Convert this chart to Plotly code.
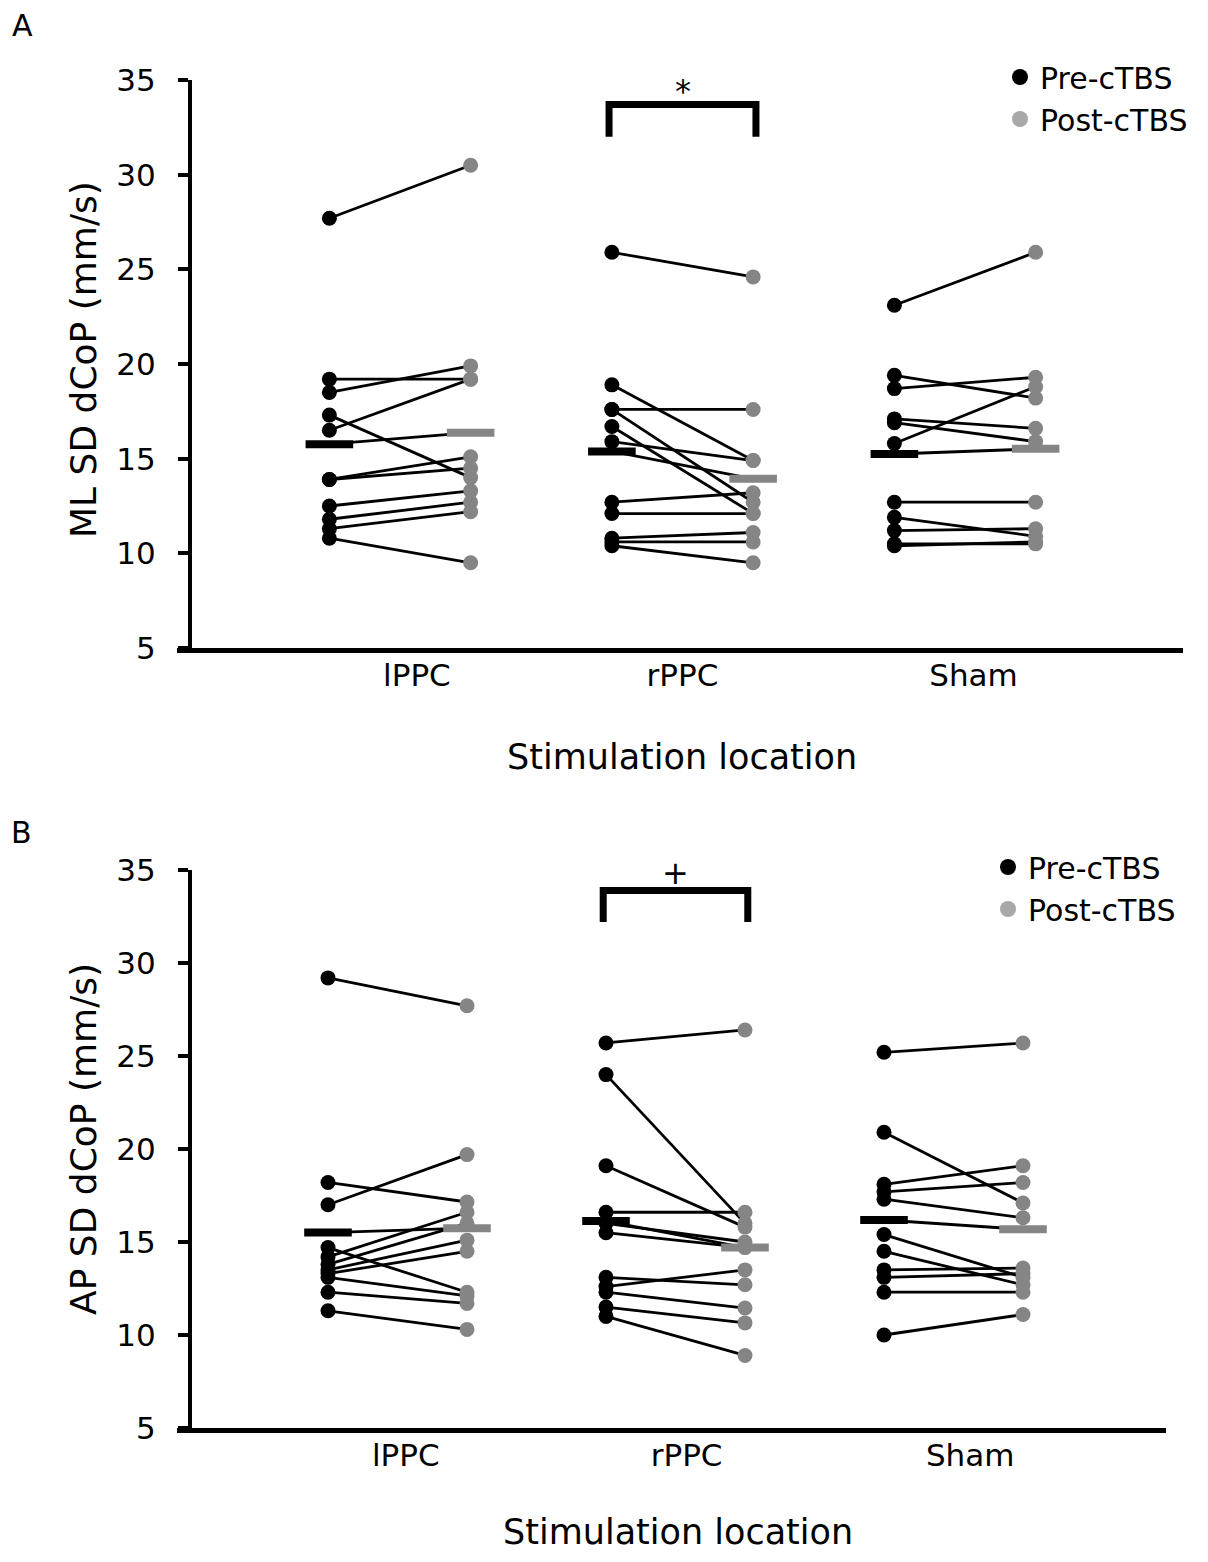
import numpy as np
import plotly.graph_objects as go

# ---------------- data ----------------
categories = ["lPPC", "rPPC", "Sham"]
cat_pos = [1, 2, 3]
y_ticks = [5, 10, 15, 20, 25, 30, 35]

# Panel A: ML SD dCoP (mm/s), paired by subject
A_lPPC_pre = [27.7, 19.2, 18.5, 17.3, 16.5, 13.9, 13.9, 12.5, 11.8, 11.3, 10.8]
A_lPPC_post = [30.5, 19.2, 19.9, 14.0, 19.2, 15.1, 14.5, 13.3, 12.7, 12.2, 9.5]
A_rPPC_pre = [25.9, 18.9, 17.6, 17.6, 16.7, 15.9, 12.7, 12.1, 10.8, 10.6, 10.4]
A_rPPC_post = [24.6, 14.9, 17.6, 12.7, 12.1, 14.9, 13.2, 12.1, 11.1, 10.6, 9.5]
A_Sham_pre = [23.1, 19.4, 18.7, 17.1, 16.9, 15.8, 12.7, 11.9, 11.2, 10.5, 10.4]
A_Sham_post = [25.9, 18.2, 19.3, 16.6, 15.9, 18.8, 12.7, 10.9, 11.3, 10.5, 10.6]

# Panel B: AP SD dCoP (mm/s)
B_lPPC_pre = [29.2, 18.2, 17.0, 14.7, 14.2, 13.8, 13.5, 13.3, 13.1, 12.3, 11.3]
B_lPPC_post = [27.7, 17.15, 19.7, 12.3, 16.6, 16.0, 15.1, 14.5, 12.1, 11.7, 10.3]
B_rPPC_pre = [25.7, 24.0, 19.1, 16.6, 16.0, 15.5, 13.1, 12.6, 12.3, 11.5, 11.0]
B_rPPC_post = [26.4, 16.0, 15.8, 16.6, 15.0, 14.7, 12.7, 13.5, 11.45, 10.65, 8.9]
B_Sham_pre = [25.2, 20.9, 18.1, 17.7, 17.3, 15.4, 14.5, 13.5, 13.1, 12.3, 10.0]
B_Sham_post = [25.7, 17.1, 19.1, 18.2, 16.3, 13.1, 12.7, 13.6, 13.3, 12.3, 11.1]

A_pre = [A_lPPC_pre, A_rPPC_pre, A_Sham_pre]
A_post = [A_lPPC_post, A_rPPC_post, A_Sham_post]
B_pre = [B_lPPC_pre, B_rPPC_pre, B_Sham_pre]
B_post = [B_lPPC_post, B_rPPC_post, B_Sham_post]

series_names = ["Pre-cTBS", "Post-cTBS"]
sig_marks = ["*", "+"]
y_titles = ["ML SD dCoP (mm/s)", "AP SD dCoP (mm/s)"]
x_title = "Stimulation location"
panel_letters = ["A", "B"]

# ---------------- style ----------------
BODY = 8                      # default page margin around the plot div
W, H = 1208 - 2 * BODY, 1562 - 2 * BODY
FONT = "DejaVu Sans"
PRE_C = "#000000"
POST_C = "#858585"
LEG_POST_C = "#a8a8a8"
OFF = 0.25


def fx(p):  # screen pixel -> paper fraction
    return (p - BODY) / W


def fy(p):
    return 1 - (p - BODY) / H


fig = go.Figure()


def add_panel(pre_sets, post_sets, xa, ya, legend):
    lx, ly = [], []
    px_pre, py_pre, px_post, py_post = [], [], [], []
    mx_pre, my_pre, mx_post, my_post = [], [], [], []
    mlx, mly = [], []
    for c, pre, post in zip(cat_pos, pre_sets, post_sets):
        for a, b in zip(pre, post):
            lx += [c - OFF, c + OFF, None]
            ly += [a, b, None]
            px_pre.append(c - OFF); py_pre.append(a)
            px_post.append(c + OFF); py_post.append(b)
        m1, m2 = float(np.mean(pre)), float(np.mean(post))
        mx_pre.append(c - OFF); my_pre.append(m1)
        mx_post.append(c + OFF); my_post.append(m2)
        mlx += [c - OFF, c + OFF, None]
        mly += [m1, m2, None]
    common = dict(xaxis=xa, yaxis=ya, showlegend=False, hoverinfo="skip")
    fig.add_trace(go.Scatter(x=lx, y=ly, mode="lines",
                             line=dict(color="black", width=2.8), **common))
    fig.add_trace(go.Scatter(x=mlx, y=mly, mode="lines",
                             line=dict(color="black", width=2.8), **common))
    fig.add_trace(go.Scatter(x=px_pre, y=py_pre, mode="markers",
                             marker=dict(color=PRE_C, size=15), **common))
    fig.add_trace(go.Scatter(x=px_post, y=py_post, mode="markers",
                             marker=dict(color=POST_C, size=15), **common))
    fig.add_trace(go.Scatter(x=mx_pre, y=my_pre, mode="markers",
                             marker=dict(symbol="line-ew", size=34,
                                         line=dict(color=PRE_C, width=8)), **common))
    fig.add_trace(go.Scatter(x=mx_post, y=my_post, mode="markers",
                             marker=dict(symbol="line-ew", size=34,
                                         line=dict(color=POST_C, width=8)), **common))
    # legend entries
    fig.add_trace(go.Scatter(x=[None], y=[None], mode="markers", name=series_names[0],
                             marker=dict(color=PRE_C, size=17), xaxis=xa, yaxis=ya,
                             legend=legend, legendgroup=legend + "a"))
    fig.add_trace(go.Scatter(x=[None], y=[None], mode="markers", name=series_names[1],
                             marker=dict(color=LEG_POST_C, size=17), xaxis=xa, yaxis=ya,
                             legend=legend, legendgroup=legend + "b"))


add_panel(A_pre, A_post, "x", "y", "legend")
add_panel(B_pre, B_post, "x2", "y2", "legend2")

# panel geometry (screen pixels)
A_box = dict(x0=177, x1=1183, y0=80, y1=648, c1=400, step=282.5, yaxis_px=190)
B_box = dict(x0=177, x1=1166, y0=870, y1=1428, c1=397.5, step=278, yaxis_px=190)


def xr(box):
    return [1 - (box["c1"] - box["x0"]) / box["step"],
            1 + (box["x1"] - box["c1"]) / box["step"]]


tickfont = dict(family=FONT, size=31, color="black")
xaxis_common = dict(showline=True, linewidth=5, linecolor="black", ticks="",
                    showgrid=False, zeroline=False, tickfont=tickfont, ticktext=categories,
                    ticklabelstandoff=-4, automargin=False)
yaxis_common = dict(showline=True, linewidth=4, linecolor="black", ticks="outside",
                    ticklen=10, tickwidth=4, tickcolor="black", showgrid=False,
                    zeroline=False, range=[5, 35], tickvals=y_ticks, tickfont=tickfont,
                    ticklabelstandoff=16, automargin=False)

legfont = dict(family=FONT, size=30, color="black")
fig.update_layout(
    template="none",
    width=W, height=H, margin=dict(l=0, r=0, t=0, b=0, pad=0), autosize=False,
    paper_bgcolor="white", plot_bgcolor="white",
    font=dict(family=FONT, color="black"),
    xaxis=dict(domain=[fx(A_box["x0"]), fx(A_box["x1"])], range=xr(A_box),
               anchor="y", tickvals=[1.06, 2.0, 3.03], **xaxis_common),
    yaxis=dict(domain=[fy(A_box["y1"]), fy(A_box["y0"])], anchor="free",
               position=fx(A_box["yaxis_px"]), **yaxis_common),
    xaxis2=dict(domain=[fx(B_box["x0"]), fx(B_box["x1"])], range=xr(B_box),
                anchor="y2", tickvals=[1.03, 2.04, 3.06], **xaxis_common),
    yaxis2=dict(domain=[fy(B_box["y1"]), fy(B_box["y0"])], anchor="free",
                position=fx(B_box["yaxis_px"]), **yaxis_common),
    legend=dict(x=fx(1000), y=fy(51), xanchor="left", yanchor="top", font=legfont,
                bgcolor="rgba(0,0,0,0)", tracegroupgap=0, itemwidth=30),
    legend2=dict(x=fx(988), y=fy(841), xanchor="left", yanchor="top", font=legfont,
                 bgcolor="rgba(0,0,0,0)", tracegroupgap=0, itemwidth=30),
)

# significance brackets
for xa, ya, top, bot, mark, my in [("x", "y", 33.7, 32.0, sig_marks[0], 34.4),
                                   ("x2", "y2", 33.9, 32.2, sig_marks[1], 34.85)]:
    fig.add_shape(type="path", xref=xa, yref=ya,
                  path=f"M {2-0.26},{bot} L {2-0.26},{top} L {2+0.26},{top} L {2+0.26},{bot}",
                  line=dict(color="black", width=7))
    fig.add_annotation(x=2, y=my, xref=xa, yref=ya, text=mark, showarrow=False,
                       xanchor="center", yanchor="middle",
                       font=dict(family=FONT, size=32, color="black"))

# axis titles & panel letters
for (tx, ty), txt in zip([(83, 360), (83, 1139)], y_titles):
    fig.add_annotation(x=fx(tx), y=fy(ty), xref="paper", yref="paper", text=txt,
                       textangle=-90, showarrow=False, xanchor="center", yanchor="middle",
                       font=dict(family=FONT, size=36, color="black"))
for (tx, ty) in [(682, 757), (678, 1532)]:
    fig.add_annotation(x=fx(tx), y=fy(ty), xref="paper", yref="paper", text=x_title,
                       showarrow=False, xanchor="center", yanchor="middle",
                       font=dict(family=FONT, size=35, color="black"))
for (tx, ty), txt in zip([(22, 25), (21, 832)], panel_letters):
    fig.add_annotation(x=fx(tx), y=fy(ty), xref="paper", yref="paper", text=txt,
                       showarrow=False, xanchor="center", yanchor="middle",
                       font=dict(family=FONT, size=30, color="black"))

fig.write_html("out.html")
